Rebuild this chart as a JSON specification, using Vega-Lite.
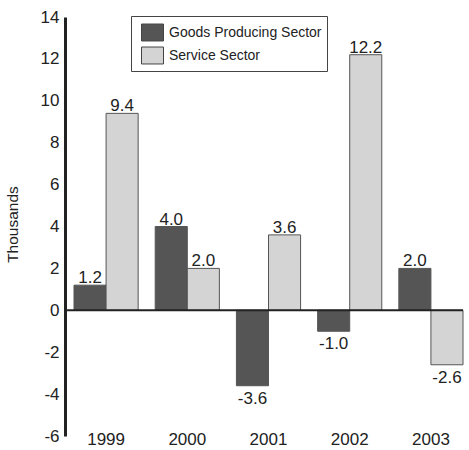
{
  "$schema": "https://vega.github.io/schema/vega-lite/v6.json",
  "width": 398,
  "height": 419,
  "autosize": "none",
  "padding": {"left": 65, "top": 17, "right": 6, "bottom": 14},
  "background": "white",
  "config": {
    "view": {"stroke": null},
    "font": "Liberation Sans",
    "locale": {"number": {"decimal": ".", "thousands": ",", "grouping": [3], "currency": ["$", ""], "minus": "-"}}
  },
  "data": {
    "values": [
      {"year": "1999", "sector": "Goods Producing Sector", "value": 1.2},
      {"year": "1999", "sector": "Service Sector", "value": 9.4},
      {"year": "2000", "sector": "Goods Producing Sector", "value": 4.0},
      {"year": "2000", "sector": "Service Sector", "value": 2.0},
      {"year": "2001", "sector": "Goods Producing Sector", "value": -3.6},
      {"year": "2001", "sector": "Service Sector", "value": 3.6},
      {"year": "2002", "sector": "Goods Producing Sector", "value": -1.0},
      {"year": "2002", "sector": "Service Sector", "value": 12.2},
      {"year": "2003", "sector": "Goods Producing Sector", "value": 2.0},
      {"year": "2003", "sector": "Service Sector", "value": -2.6}
    ]
  },
  "layer": [
    {
      "mark": {"type": "bar", "stroke": "#555555", "strokeWidth": 1},
      "encoding": {
        "x": {
          "field": "year", "type": "nominal",
          "scale": {"range": [9, 398], "paddingInner": 0.21, "paddingOuter": 0},
          "axis": {"title": null, "ticks": false, "domain": false, "labelAngle": 0, "labelFontSize": 17, "labelColor": "#222222", "labelBaseline": "middle", "labelPadding": 3}
        },
        "xOffset": {"field": "sector", "type": "nominal", "sort": ["Goods Producing Sector", "Service Sector"]},
        "y": {
          "field": "value", "type": "quantitative",
          "scale": {"domain": [-6, 14], "nice": false, "zero": false},
          "axis": {
            "title": "Thousands", "titleFontSize": 15.5, "titleFontWeight": "normal", "titleColor": "#222222",
            "titleX": -53, "titleY": 207, "titleBaseline": "middle",
            "values": [-6, -4, -2, 0, 2, 4, 6, 8, 10, 12, 14], "format": "d",
            "grid": false, "ticks": false, "domainColor": "#222222", "domainWidth": 3,
            "labelFontSize": 17, "labelColor": "#222222", "labelPadding": 6
          }
        },
        "color": {
          "field": "sector", "type": "nominal",
          "scale": {"domain": ["Goods Producing Sector", "Service Sector"], "range": ["#555555", "#d4d4d4"]},
          "legend": {
            "title": null, "orient": "none", "legendX": 66, "legendY": -1,
            "strokeColor": "#444444", "padding": 5, "symbolOffset": 5,
            "symbolType": "M-1,-0.77H1V0.77H-1Z", "symbolSize": 484,
            "symbolStrokeColor": "#444444", "symbolStrokeWidth": 1,
            "labelFontSize": 14, "labelColor": "#222222", "labelOffset": 5, "rowPadding": 1
          }
        }
      }
    },
    {
      "data": {"values": [{"zero": 0}]},
      "mark": {"type": "rule", "color": "#222222", "strokeWidth": 2},
      "encoding": {"y": {"field": "zero", "type": "quantitative"}}
    },
    {
      "transform": [{"filter": "datum.value >= 0"}],
      "mark": {"type": "text", "baseline": "alphabetic", "dy": -2, "fontSize": 17, "color": "#222222"},
      "encoding": {
        "x": {"field": "year", "type": "nominal"},
        "xOffset": {"field": "sector", "type": "nominal", "sort": ["Goods Producing Sector", "Service Sector"]},
        "y": {"field": "value", "type": "quantitative"},
        "text": {"field": "value", "type": "quantitative", "format": ".1f"}
      }
    },
    {
      "transform": [{"filter": "datum.value < 0"}],
      "mark": {"type": "text", "baseline": "top", "dy": 5, "fontSize": 17, "color": "#222222"},
      "encoding": {
        "x": {"field": "year", "type": "nominal"},
        "xOffset": {"field": "sector", "type": "nominal", "sort": ["Goods Producing Sector", "Service Sector"]},
        "y": {"field": "value", "type": "quantitative"},
        "text": {"field": "value", "type": "quantitative", "format": ".1f"}
      }
    }
  ]
}
